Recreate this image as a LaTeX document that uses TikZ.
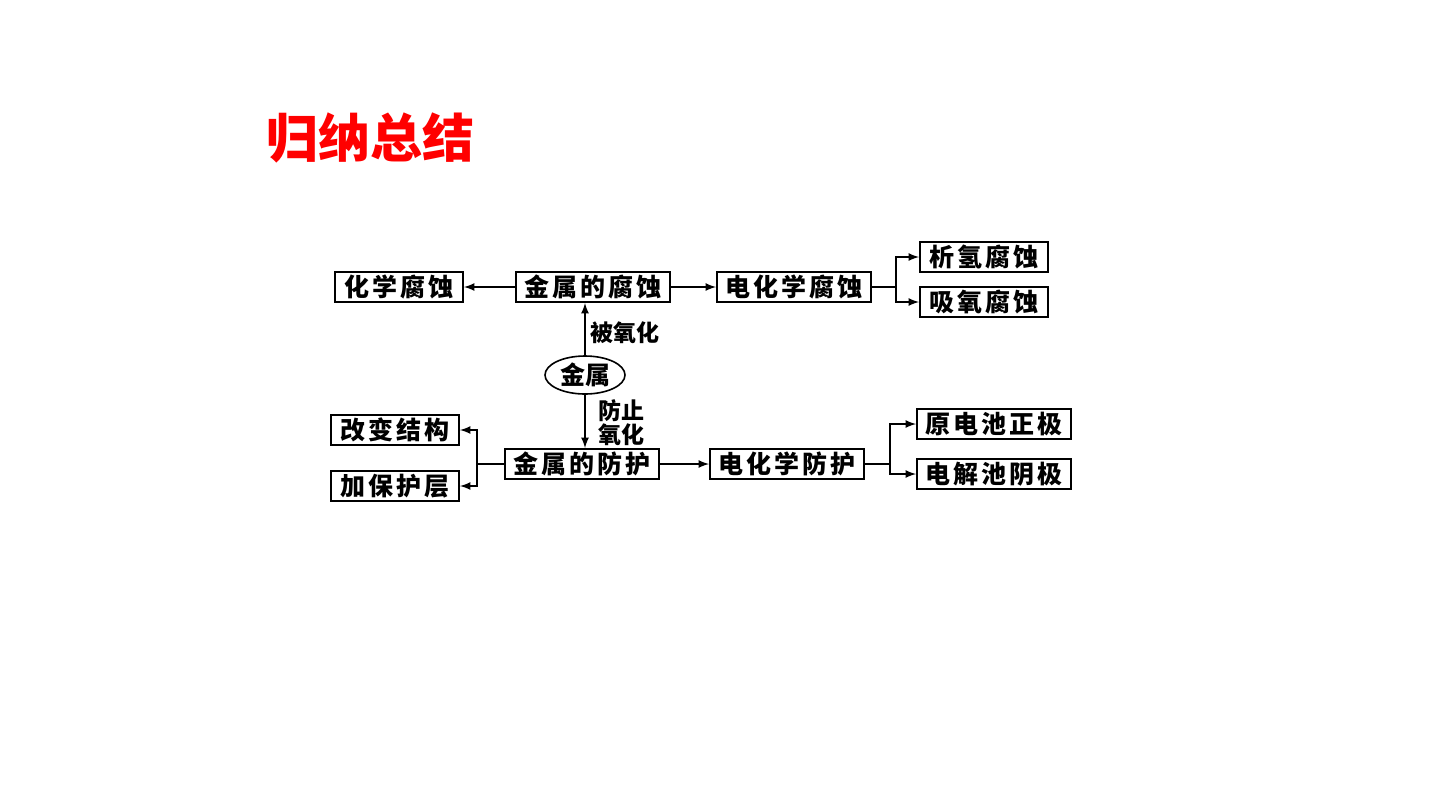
\documentclass[tikz,border=0pt]{standalone}
\usepackage{fontspec}
\newfontfamily\cjk{Noto Sans CJK SC}
\newfontfamily\cjkwide[LetterSpace=12]{Noto Sans CJK SC}
\usetikzlibrary{arrows,shapes.geometric,positioning}
\tikzset{
  basic/.style   = {draw, line width=1pt, rectangle, inner sep=1pt,
                    font=\cjkwide\bfseries\fontsize{12.5}{14}\selectfont,
                    minimum height=15pt},
  short box/.style = {basic, minimum width=64pt},
  long box/.style  = {basic, minimum width=77pt},
  metal/.style   = {draw, line width=0.8pt, ellipse, inner sep=0pt,
                    minimum width=40pt, minimum height=19pt,
                    font=\cjk\bfseries\fontsize{12.5}{14}\selectfont},
  tag/.style     = {inner sep=0pt, align=left,
                    font=\cjk\bfseries\fontsize{11.5}{9.8}\selectfont}
}

\begin{document}
\begin{tikzpicture}[x=0.5pt, y=-0.5pt, >=latex, line width=0.8pt]
\useasboundingbox (0,0) rectangle (1440,810);

% title
\node[text=red, font=\cjk\bfseries\fontsize{26}{28}\selectfont] (title) at (370,138) {归纳总结};

% upper row: corrosion
\node[long box]  (fs)   at (593,287) {金属的腐蚀};
\node[short box] (hxfs) at (399,287) {化学腐蚀};
\node[long box]  (dhfs) at (794,287) {电化学腐蚀};
\node[short box] (xq)   at (984,257) {析氢腐蚀};
\node[short box] (xy)   at (984,302) {吸氧腐蚀};

% the metal in the middle
\node[metal] (jinshu) at (585,375) {金属};

% lower row: protection
\node[long box]  (fh)   at (582,464) {金属的防护};
\node[short box] (gb)   at (395,430) {改变结构};
\node[short box] (jb)   at (395,486) {加保护层};
\node[long box]  (dhfh) at (787,464) {电化学防护};
\node[long box]  (ydc)  at (994,424) {原电池正极};
\node[long box]  (djc)  at (994,474) {电解池阴极};

% labels on the vertical arrows
\node[tag, right=2.5pt of jinshu.north, yshift=11.5pt] (ox) {被氧化};
\node[tag, right=6.5pt of jinshu.south, yshift=-14pt] (stop) {防止\\氧化};

% arrows
\draw[->] (jinshu.north) -- (jinshu.north |- fs.south);
\draw[->] (jinshu.south) -- (jinshu.south |- fh.north);
\draw[->] (fs) -- (hxfs);
\draw[->] (fs) -- (dhfs);
\draw[->] (fh) -- (dhfh);

\foreach \kid in {xq,xy}
  \draw[->] (dhfs.east) -- ++(24,0) |- (\kid.west);
\foreach \kid in {ydc,djc}
  \draw[->] (dhfh.east) -- ++(25,0) |- (\kid.west);
\foreach \kid in {gb,jb}
  \draw[->] (fh.west) -- ++(-27,0) |- (\kid.east);
\end{tikzpicture}
\end{document}
